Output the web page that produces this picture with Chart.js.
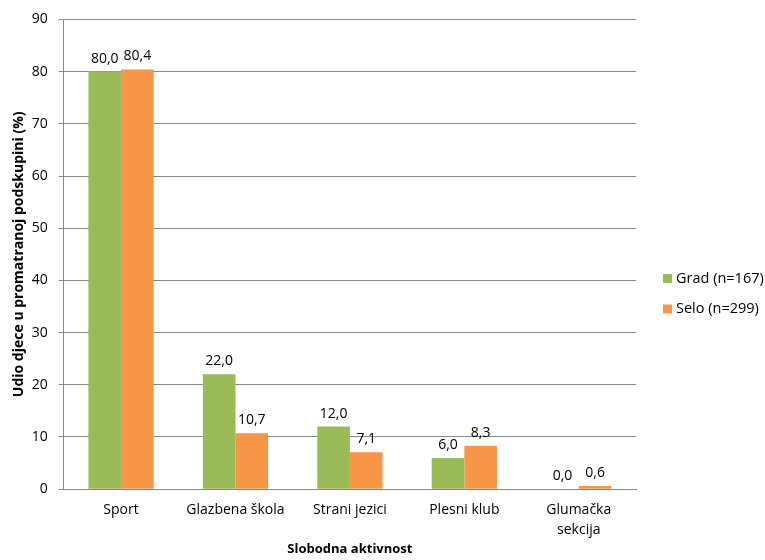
<!DOCTYPE html>
<html>
<head>
<meta charset="utf-8">
<script src="https://cdn.jsdelivr.net/npm/chart.js@4/dist/chart.umd.min.js"></script>
<style>
  body { margin: 0; background: #fff; }
  #wrap { width: 765px; height: 560px; }
</style>
</head>
<body>
<div id="wrap"><canvas id="chart"></canvas></div>
<script>
var categories = ['Sport', 'Glazbena škola', 'Strani jezici', 'Plesni klub', ['Glumačka', 'sekcija']];
var gradValues = [80.0, 22.0, 12.0, 6.0, 0.0];
var seloValues = [80.4, 10.7, 7.1, 8.3, 0.6];
var seriesNames = ['Grad (n=167)', 'Selo (n=299)'];
var seriesColors = ['#9BBB59', '#F79646'];

var fontFamily = '"Open Sans", sans-serif';

// value labels above each bar, comma as decimal separator
var barLabels = {
    id: 'barLabels',
    afterDatasetsDraw: function(chart) {
        var ctx = chart.ctx;
        ctx.save();
        ctx.font = '14px ' + fontFamily;
        ctx.fillStyle = '#000';
        ctx.textAlign = 'center';
        ctx.textBaseline = 'bottom';
        chart.data.datasets.forEach(function(ds, i) {
            chart.getDatasetMeta(i).data.forEach(function(bar, j) {
                var txt = ds.data[j].toFixed(1).replace('.', ',');
                ctx.fillText(txt, bar.x, bar.y - 6);
            });
        });
        ctx.restore();
    }
};

// legend to the right of the plot, like the Excel original
var sideLegend = {
    id: 'sideLegend',
    afterDraw: function(chart) {
        var ctx = chart.ctx;
        var x = chart.chartArea.right + 27;
        var y0 = chart.height / 2 - 1.5;
        ctx.save();
        ctx.font = '14.5px ' + fontFamily;
        ctx.textBaseline = 'middle';
        ctx.textAlign = 'left';
        chart.data.datasets.forEach(function(ds, i) {
            var y = y0 + i * 30.5;
            ctx.fillStyle = ds.backgroundColor;
            ctx.fillRect(x, y - 4.5, 9, 9);
            ctx.fillStyle = '#000';
            ctx.fillText(ds.label, x + 13, y);
        });
        ctx.restore();
    }
};

new Chart(document.getElementById('chart'), {
    type: 'bar',
    data: {
        labels: categories,
        datasets: [{
            label: seriesNames[0],
            data: gradValues,
            backgroundColor: seriesColors[0]
        }, {
            label: seriesNames[1],
            data: seloValues,
            backgroundColor: seriesColors[1]
        }]
    },
    options: {
        responsive: true,
        maintainAspectRatio: false,
        animation: false,
        categoryPercentage: 0.57,
        barPercentage: 1.0,
        layout: { padding: { top: 18, right: 129, bottom: 2, left: 11 } },
        plugins: {
            legend: { display: false },
            tooltip: { enabled: false }
        },
        scales: {
            x: {
                grid: { display: false, drawTicks: false },
                border: { color: '#888' },
                ticks: { color: '#000', padding: 11, font: { family: fontFamily, size: 14, lineHeight: 1.4 } },
                title: {
                    display: true,
                    text: 'Slobodna aktivnost',
                    color: '#000',
                    font: { family: fontFamily, size: 13, weight: 'bold' },
                    padding: { top: -9, bottom: 1 }
                }
            },
            y: {
                min: 0,
                max: 90,
                ticks: { stepSize: 10, color: '#000', padding: 11, font: { family: fontFamily, size: 14 } },
                grid: { color: '#888', tickLength: 5 },
                border: { color: '#888' },
                title: {
                    display: true,
                    text: 'Udio djece u promatranoj podskupini (%)',
                    color: '#000',
                    font: { family: fontFamily, size: 14, weight: 'bold' },
                    padding: { top: 0, bottom: -7 }
                }
            }
        }
    },
    plugins: [barLabels, sideLegend]
});
</script>
</body>
</html>
